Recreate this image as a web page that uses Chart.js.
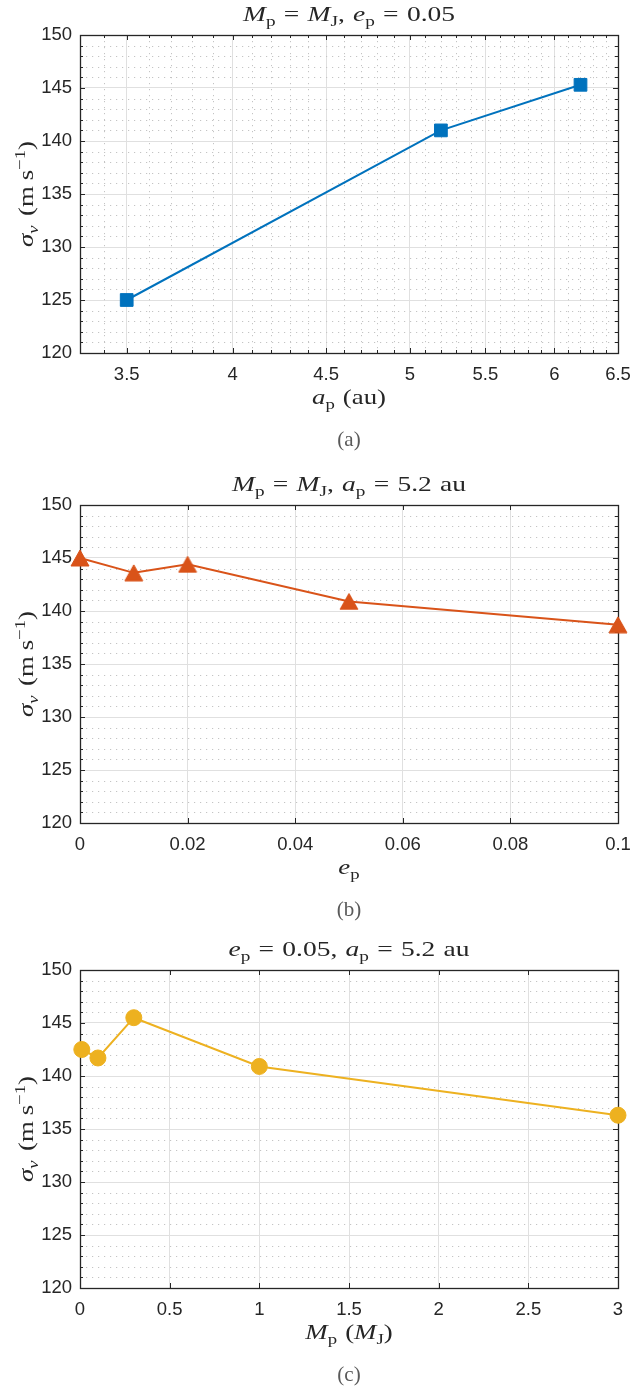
<!DOCTYPE html>
<html><head><meta charset="utf-8">
<script src="https://cdn.jsdelivr.net/npm/chart.js@4.4.1/dist/chart.umd.min.js"></script>
<style>
html,body{margin:0;padding:0;background:#fff;}
body{width:632px;height:1391px;position:relative;overflow:hidden;}
.p{position:absolute;left:0;width:632px;height:456px;}
canvas{display:block;}
</style></head><body>
<div class="p" style="top:0px"><canvas id="ca" width="632" height="456"></canvas></div>
<div class="p" style="top:470px"><canvas id="cb" width="632" height="456"></canvas></div>
<div class="p" style="top:935px"><canvas id="cc" width="632" height="456"></canvas></div>
<script>
// ---- data ----
const semiMajorAxis = [3.5, 5.2, 6.2];
const sigmaVsA = [125, 141, 145.3];
const eccentricity = [0, 0.01, 0.02, 0.05, 0.1];
const sigmaVsE = [145, 143.6, 144.4, 140.9, 138.7];
const planetMass = [0.01, 0.1, 0.3, 1, 3];
const sigmaVsM = [142.5, 141.7, 145.5, 140.9, 136.3];
const xTicksA = [3.5, 4, 4.5, 5, 5.5, 6, 6.5];
const xTicksB = [0, 0.02, 0.04, 0.06, 0.08, 0.1];
const xTicksC = [0, 0.5, 1, 1.5, 2, 2.5, 3];
const yTicks = [120, 125, 130, 135, 140, 145, 150];

const SERIF = '"Liberation Serif", "Times New Roman", serif';
const SANS = '"Liberation Sans", Arial, Helvetica, sans-serif';
const AX = '#262626';

// rich text helpers
const I = t => ({t, i:true});
const R = t => ({t});
const Sb = (t, it) => ({t, sub:true, i:!!it});
const Sp = t => ({t, sup:true});
const G = em => ({g:em});

function drawRich(ctx, segs, x, y, size, opt) {
  opt = opt || {};
  const sx = opt.sx || 1;
  ctx.save();
  ctx.fillStyle = opt.color || AX;
  ctx.textBaseline = 'alphabetic';
  ctx.textAlign = 'left';
  let w = 0;
  const parts = segs.map(s => {
    if (s.g !== undefined) { const mw = s.g * size; w += mw; return {g:true, mw}; }
    const fs = (s.sub || s.sup) ? size * 0.7 : size;
    const font = (s.i ? 'italic ' : '') + fs + 'px ' + SERIF;
    ctx.font = font;
    const mw = ctx.measureText(s.t).width;
    w += mw;
    return Object.assign({}, s, {font, mw});
  });
  ctx.translate(x, y);
  if (opt.rot) ctx.rotate(opt.rot);
  ctx.scale(sx, 1);
  let cx = -w / 2;
  parts.forEach(p => {
    if (!p.g) {
      ctx.font = p.font;
      const dy = p.sub ? size * 0.22 : (p.sup ? -size * 0.38 : 0);
      ctx.fillText(p.t, cx, dy);
    }
    cx += p.mw;
  });
  ctx.restore();
}

function line(ctx, x1, y1, x2, y2) { ctx.beginPath(); ctx.moveTo(x1, y1); ctx.lineTo(x2, y2); ctx.stroke(); }

// triangle marker centred on its bounding box (MATLAB style)
function triMarker(color, w, h) {
  const c = document.createElement('canvas');
  c.width = w + 2; c.height = h + 2;
  const g = c.getContext('2d');
  g.fillStyle = color; g.strokeStyle = color; g.lineWidth = 1;
  g.beginPath(); g.moveTo(1 + w / 2, 1); g.lineTo(1 + w, 1 + h); g.lineTo(1, 1 + h); g.closePath();
  g.fill(); g.stroke();
  return c;
}

const deco = {
  id: 'deco',
  beforeDatasetsDraw(chart, args, o) {
    const {ctx, chartArea: {left, right, top, bottom}, scales: {x, y}} = chart;
    ctx.save();
    ctx.strokeStyle = '#c4c4c4';
    ctx.lineWidth = 1;
    ctx.setLineDash([1.2, 4.8]);
    const yMinor = [];
    for (let v = 121; v < 150; v++) if (v % 5) yMinor.push(v);
    yMinor.forEach(v => { const py = Math.round(y.getPixelForValue(v)) + 0.5; line(ctx, left, py, right, py); });
    (o.xMinor || []).forEach(v => { const px = Math.round(x.getPixelForValue(v)) + 0.5; line(ctx, px, top, px, bottom); });
    ctx.setLineDash([]);
    ctx.strokeStyle = AX;
    ctx.lineWidth = 1;
    yTicks.forEach(v => { const py = Math.round(y.getPixelForValue(v)) + 0.5; line(ctx, left, py, left + 5, py); line(ctx, right, py, right - 5, py); });
    yMinor.forEach(v => { const py = Math.round(y.getPixelForValue(v)) + 0.5; line(ctx, left, py, left + 3, py); line(ctx, right, py, right - 3, py); });
    o.xMajor.forEach(v => { const px = Math.round(x.getPixelForValue(v)) + 0.5; line(ctx, px, bottom, px, bottom - 5); line(ctx, px, top, px, top + 5); });
    (o.xMinor || []).forEach(v => { const px = Math.round(x.getPixelForValue(v)) + 0.5; line(ctx, px, bottom, px, bottom - 3); line(ctx, px, top, px, top + 3); });
    ctx.lineWidth = 1.3;
    ctx.strokeRect(Math.round(left) + 0.5, Math.round(top) + 0.5, Math.round(right - left), Math.round(bottom - top));
    ctx.restore();
  },
  afterDraw(chart, args, o) {
    const {ctx, chartArea: {left, right, top, bottom}} = chart;
    const cx = (left + right) / 2;
    drawRich(ctx, o.title, cx, 21, 22, {sx: 1.25});
    drawRich(ctx, o.xlabel, cx, 404, 22, {sx: 1.22});
    drawRich(ctx, o.ylabel, 33, (top + bottom) / 2, 22, {rot: -Math.PI / 2, sx: 1.22});
    drawRich(ctx, [R(o.caption)], cx, 446, 21, {color: '#5a5a5a'});
  }
};

function makeChart(id, xs, ys, color, pstyle, prad, xType, xMin, xMax, xMajor, xMinor, title, xlabel, caption) {
  const pts = xs.map((v, i) => ({x: v, y: ys[i]}));
  return new Chart(document.getElementById(id), {
    type: 'line',
    data: { datasets: [{
      data: pts, borderColor: color, backgroundColor: color,
      pointBackgroundColor: color, pointBorderColor: color,
      borderWidth: 2, pointStyle: pstyle, pointRadius: prad, pointBorderWidth: 1,
      tension: 0, clip: false
    }]},
    options: {
      responsive: false, animation: false, devicePixelRatio: 1,
      layout: { padding: { top: 35, right: 14, left: 0, bottom: 0 } },
      plugins: {
        legend: { display: false }, tooltip: { enabled: false }, title: { display: false },
        deco: { xMajor, xMinor, title, xlabel, caption,
          ylabel: [I('σ'), Sb('v', true), G(0.35), R('(m'), G(0.22), R('s'), Sp('−1'), R(')')] }
      },
      scales: {
        x: {
          type: xType, min: xMin, max: xMax, position: 'bottom',
          afterBuildTicks: s => { s.ticks = xMajor.map(v => ({value: v})); },
          afterFit: s => { s.height = 103; s.paddingLeft = 0; s.paddingRight = 0; },
          ticks: { callback: v => String(v), font: {family: SANS, size: 18.5}, color: AX, padding: 11, maxRotation: 0, autoSkip: false },
          grid: { color: '#e0e0e0', lineWidth: 1, drawTicks: false },
          border: { display: false }
        },
        y: {
          type: 'linear', min: 120, max: 150, position: 'left',
          afterBuildTicks: s => { s.ticks = yTicks.map(v => ({value: v})); },
          afterFit: s => { s.width = 80; s.paddingTop = 0; s.paddingBottom = 0; },
          ticks: { callback: v => String(v), font: {family: SANS, size: 18.5}, color: AX, padding: 8, autoSkip: false },
          grid: { color: '#e0e0e0', lineWidth: 1, drawTicks: false },
          border: { display: false }
        }
      }
    },
    plugins: [deco]
  });
}

const minorA = [];
for (let i = 34; i <= 64; i++) if (i % 5) minorA.push(i / 10);

makeChart('ca', semiMajorAxis, sigmaVsA, '#0072BD', 'rect', 9, 'logarithmic', 3.3, 6.5, xTicksA, minorA,
  [I('M'), Sb('p'), G(0.3), R('='), G(0.3), I('M'), Sb('J'), R(','), G(0.3), I('e'), Sb('p'), G(0.3), R('='), G(0.3), R('0.05')],
  [I('a'), Sb('p'), G(0.3), R('(au)')], '(a)');
makeChart('cb', eccentricity, sigmaVsE, '#D95319', triMarker('#D95319', 18, 16), 10, 'linear', 0, 0.1, xTicksB, [],
  [I('M'), Sb('p'), G(0.3), R('='), G(0.3), I('M'), Sb('J'), R(','), G(0.3), I('a'), Sb('p'), G(0.3), R('='), G(0.3), R('5.2'), G(0.3), R('au')],
  [I('e'), Sb('p')], '(b)');
makeChart('cc', planetMass, sigmaVsM, '#EDB120', 'circle', 8, 'linear', 0, 3, xTicksC, [],
  [I('e'), Sb('p'), G(0.3), R('='), G(0.3), R('0.05,'), G(0.3), I('a'), Sb('p'), G(0.3), R('='), G(0.3), R('5.2'), G(0.3), R('au')],
  [I('M'), Sb('p'), G(0.3), R('('), I('M'), Sb('J'), R(')')], '(c)');
</script>
</body></html>
